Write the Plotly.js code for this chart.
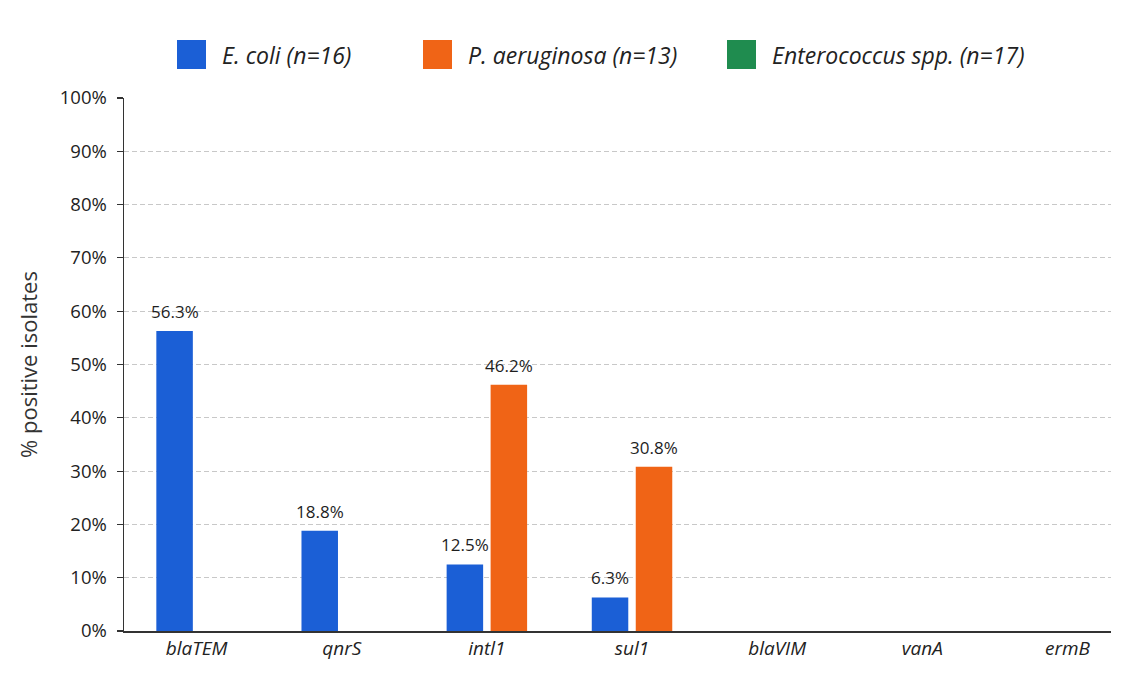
<!DOCTYPE html>
<html>
<head>
<meta charset="utf-8">
<script src="https://cdn.plot.ly/plotly-3.0.1.min.js"></script>
<style>
  html, body { margin: 0; padding: 0; background: #ffffff; }
  #chart { width: 1135px; height: 674px; }
</style>
</head>
<body>
<div id="chart"></div>
<script>
// Resistance genes screened
const genes = ['blaTEM', 'qnrS', 'intl1', 'sul1', 'blaVIM', 'vanA', 'ermB'];

// % positive isolates per organism
const eColiPct = [56.3, 18.8, 12.5, 6.3, 0, 0, 0];
const pAeruginosaPct = [0, 0, 46.2, 30.8, 0, 0, 0];
const enterococcusPct = [0, 0, 0, 0, 0, 0, 0];

// Legend names
const seriesNames = ['E. coli (n=16)', 'P. aeruginosa (n=13)', 'Enterococcus spp. (n=17)'];
const seriesColors = ['#1b5fd6', '#f06416', '#1f8c4f'];

// Y-axis ticks
const yTicks = [0, 10, 20, 30, 40, 50, 60, 70, 80, 90, 100];
const yTickText = yTicks.map(v => v + '%');

const W = 1135, H = 674;
const M = { l: 124, r: 24, t: 98, b: 43 };
const plotW = W - M.l - M.r;
const plotH = H - M.t - M.b;
const X_RANGE = [-0.5, 6.3];
const catW = plotW / (X_RANGE[1] - X_RANGE[0]);
const BARGAP = 0.394;
const slotShift = catW * (1 - BARGAP) / 4;

const FONT = '"Open Sans", "Noto Sans", "DejaVu Sans", sans-serif';

const traces = [
  { name: seriesNames[0], y: eColiPct, color: seriesColors[0], og: 'a' },
  { name: seriesNames[1], y: pAeruginosaPct, color: seriesColors[1], og: 'b' },
  { name: seriesNames[2], y: enterococcusPct, color: seriesColors[2], og: 'b' }
].map(s => ({
  type: 'bar',
  name: s.name,
  x: genes,
  y: s.y,
  offsetgroup: s.og,
  marker: { color: s.color, line: { width: 0 } },
  showlegend: false,
  hoverinfo: 'x+y'
}));

// Value labels above the non-zero bars
const annotations = [];
[[eColiPct, -slotShift], [pAeruginosaPct, slotShift], [enterococcusPct, slotShift]].forEach(([vals, dx]) => {
  vals.forEach((v, i) => {
    if (v > 0) {
      annotations.push({
        x: genes[i], y: v, xref: 'x', yref: 'y',
        text: v.toFixed(1) + '%',
        showarrow: false, xanchor: 'center', yanchor: 'bottom',
        xshift: dx, yshift: 6,
        font: { family: FONT, size: 17, color: '#1e1e1e' }
      });
    }
  });
});

// Legend row across the top
const toPX = px => (px - M.l) / plotW;
const toPY = py => (H - M.b - py) / plotH;
const legendSwatchX = [177, 423, 727];
const SW = 29, LEG_TOP = 40;
const shapes = [];
seriesNames.forEach((name, i) => {
  shapes.push({
    type: 'rect', xref: 'paper', yref: 'paper',
    x0: toPX(legendSwatchX[i]), x1: toPX(legendSwatchX[i] + SW),
    y0: toPY(LEG_TOP + SW), y1: toPY(LEG_TOP),
    fillcolor: seriesColors[i], line: { width: 0 }
  });
  annotations.push({
    xref: 'paper', yref: 'paper',
    x: toPX(legendSwatchX[i] + SW + 14), y: toPY(LEG_TOP + SW / 2),
    xanchor: 'left', yanchor: 'middle', showarrow: false,
    text: '<i>' + name + '</i>',
    font: { family: FONT, size: 23, color: '#222222' }
  });
});

const layout = {
  width: W, height: H,
  margin: M,
  paper_bgcolor: '#ffffff',
  plot_bgcolor: '#ffffff',
  barmode: 'group',
  bargap: BARGAP,
  bargroupgap: 0.17,
  showlegend: false,
  font: { family: FONT, color: '#333333' },
  xaxis: {
    type: 'category',
    range: X_RANGE,
    tickvals: genes,
    ticktext: genes.map(g => '<i>' + g + '</i>'),
    tickfont: { family: FONT, size: 19, color: '#222222' },
    showline: true, linecolor: '#333333', linewidth: 1.5,
    ticks: '', showgrid: false, zeroline: false,
    automargin: false
  },
  yaxis: {
    range: [0, 100],
    tickvals: yTicks,
    ticktext: yTickText,
    tickfont: { family: FONT, size: 18.5, color: '#222222' },
    ticks: 'outside', ticklen: 6, tickcolor: '#333333', tickwidth: 1.2,
    ticklabelstandoff: 6,
    showline: true, linecolor: '#333333', linewidth: 1.5,
    showgrid: true, gridcolor: '#c8c8c8', gridwidth: 1, griddash: '5px,3px',
    zeroline: false,
    title: { text: '% positive isolates', font: { family: FONT, size: 22, color: '#333333' }, standoff: 16 },
    automargin: false
  },
  annotations: annotations,
  shapes: shapes
};

Plotly.newPlot('chart', traces, layout, { displayModeBar: false, staticPlot: true });
</script>
</body>
</html>
